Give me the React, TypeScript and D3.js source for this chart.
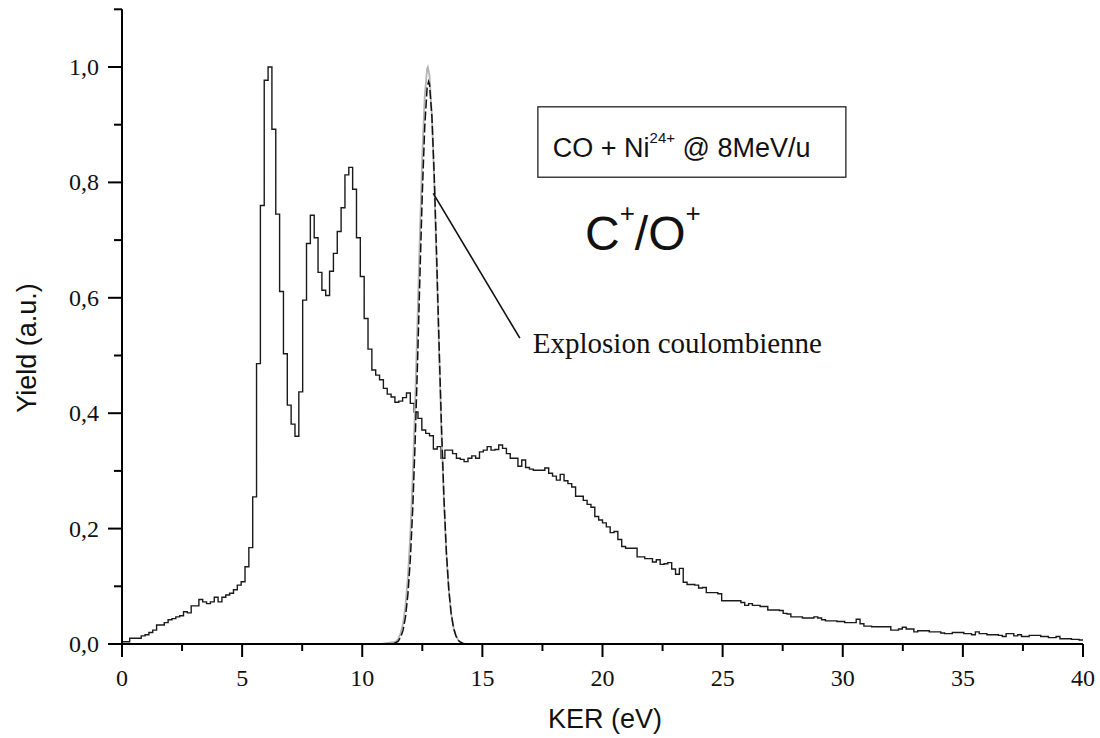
import React from "react";
import * as d3 from "d3";

// ---- Data ----
const BIN_WIDTH = 0.16; // eV
const kerCounts: number[] = [
  0.004, 0.004, 0.010, 0.010, 0.010, 0.014, 0.016, 0.020, 0.024, 0.033,
  0.033, 0.037, 0.042, 0.044, 0.047, 0.049, 0.056, 0.054, 0.066, 0.066,
  0.077, 0.073, 0.070, 0.073, 0.081, 0.073, 0.081, 0.085, 0.088, 0.094,
  0.102, 0.108, 0.134, 0.167, 0.255, 0.486, 0.760, 0.977, 1.000, 0.892,
  0.745, 0.611, 0.503, 0.414, 0.381, 0.360, 0.437, 0.596, 0.694, 0.743,
  0.704, 0.644, 0.613, 0.604, 0.646, 0.677, 0.715, 0.756, 0.813, 0.826,
  0.788, 0.704, 0.637, 0.564, 0.511, 0.475, 0.466, 0.458, 0.443, 0.433,
  0.428, 0.419, 0.421, 0.427, 0.435, 0.417, 0.402, 0.391, 0.371, 0.365,
  0.361, 0.338, 0.342, 0.322, 0.336, 0.336, 0.330, 0.322, 0.320, 0.316,
  0.322, 0.326, 0.322, 0.333, 0.336, 0.342, 0.336, 0.337, 0.345, 0.339,
  0.330, 0.322, 0.322, 0.308, 0.319, 0.306, 0.303, 0.301, 0.301, 0.301,
  0.305, 0.296, 0.291, 0.284, 0.294, 0.283, 0.278, 0.272, 0.256, 0.256,
  0.249, 0.242, 0.237, 0.221, 0.215, 0.210, 0.203, 0.193, 0.195, 0.181,
  0.169, 0.166, 0.166, 0.166, 0.151, 0.151, 0.148, 0.148, 0.142, 0.146,
  0.138, 0.139, 0.141, 0.130, 0.121, 0.131, 0.107, 0.103, 0.103, 0.102,
  0.097, 0.098, 0.089, 0.089, 0.089, 0.087, 0.075, 0.075, 0.075, 0.075,
  0.075, 0.072, 0.067, 0.070, 0.067, 0.067, 0.065, 0.065, 0.059, 0.059,
  0.059, 0.058, 0.053, 0.052, 0.047, 0.047, 0.047, 0.045, 0.045, 0.045,
  0.047, 0.045, 0.042, 0.040, 0.040, 0.040, 0.039, 0.039, 0.037, 0.037,
  0.037, 0.043, 0.035, 0.031, 0.031, 0.030, 0.030, 0.030, 0.030, 0.030,
  0.024, 0.024, 0.026, 0.029, 0.026, 0.026, 0.021, 0.023, 0.023, 0.023,
  0.021, 0.021, 0.021, 0.019, 0.018, 0.018, 0.020, 0.020, 0.020, 0.018,
  0.018, 0.016, 0.021, 0.018, 0.018, 0.016, 0.016, 0.016, 0.015, 0.013,
  0.018, 0.018, 0.014, 0.016, 0.013, 0.013, 0.015, 0.015, 0.015, 0.013,
  0.013, 0.011, 0.011, 0.013, 0.009, 0.009, 0.009, 0.008, 0.008, 0.007,
];

// Coulomb explosion peak (grey solid)
const coulombX: number[] = [
  10.8, 11.4, 11.5, 11.6, 11.7, 11.8, 11.9, 12.0, 12.1, 12.2, 12.3, 12.4,
  12.5, 12.6, 12.7, 12.73, 12.8, 12.9, 13.0, 13.1, 13.2, 13.3, 13.4, 13.5,
  13.6, 13.7, 13.8, 13.9, 14.0, 14.1, 14.2, 14.3, 28.7,
];
const coulombY: number[] = [
  0, 0.004, 0.009, 0.019, 0.036, 0.067, 0.116, 0.189, 0.289, 0.416, 0.561,
  0.712, 0.848, 0.949, 0.997, 1.0, 0.985, 0.914, 0.796, 0.652, 0.502, 0.362,
  0.246, 0.157, 0.094, 0.053, 0.028, 0.014, 0.0065, 0.003, 0.001, 0, 0,
];
// Fit (black dashed)
const fitX: number[] = [
  11.3, 11.5, 11.6, 11.7, 11.8, 11.9, 12.0, 12.1, 12.2, 12.3, 12.4, 12.5,
  12.6, 12.7, 12.76, 12.8, 12.9, 13.0, 13.1, 13.2, 13.3, 13.4, 13.5, 13.6,
  13.7, 13.8, 13.9, 14.0, 14.1, 14.2, 14.3,
];
const fitY: number[] = [
  0, 0.005, 0.012, 0.024, 0.047, 0.086, 0.146, 0.233, 0.348, 0.486, 0.637,
  0.781, 0.896, 0.964, 0.975, 0.97, 0.914, 0.807, 0.667, 0.516, 0.374, 0.254,
  0.161, 0.096, 0.053, 0.028, 0.014, 0.006, 0.003, 0.001, 0,
];

const xMajorTicks: number[] = [0, 5, 10, 15, 20, 25, 30, 35, 40];
const xMinorTicks: number[] = [2.5, 7.5, 12.5, 17.5, 22.5, 27.5, 32.5, 37.5];
const yMajorTicks: number[] = [0, 0.2, 0.4, 0.6, 0.8, 1.0];
const yMinorTicks: number[] = [0.1, 0.3, 0.5, 0.7, 0.9, 1.1];

const xTitle = "KER (eV)";
const yTitle = "Yield (a.u.)";
const annotLabel = "Explosion coulombienne";

// ---- Layout ----
const W = 1100;
const H = 738;
const serif = "'Liberation Serif', 'Times New Roman', serif";
const sans = "'Liberation Sans', Arial, sans-serif";

export default function App() {
  const x = d3.scaleLinear().domain([0, 40]).range([122, 1083]);
  const y = d3.scaleLinear().domain([0, 1.1]).range([644, 644 - 1.1 * 577]);

  const histPts: [number, number][] = kerCounts.map((v, i) => [i * BIN_WIDTH, v]);
  histPts.push([kerCounts.length * BIN_WIDTH, kerCounts[kerCounts.length - 1]]);
  const stepLine = d3
    .line<[number, number]>()
    .x((d) => x(d[0]))
    .y((d) => y(d[1]))
    .curve(d3.curveStepAfter);
  const plainLine = d3
    .line<[number, number]>()
    .x((d) => x(d[0]))
    .y((d) => y(d[1]));

  const coulombPts: [number, number][] = coulombX.map((v, i) => [v, coulombY[i]]);
  const fitPts: [number, number][] = fitX.map((v, i) => [v, fitY[i]]);

  const fmt = (v: number) => d3.format(".1f")(v).replace(".", ",");

  const y0 = y(0);
  const xAxisY = y0;

  return (
    <svg
      width={W}
      height={H}
      style={{ position: "absolute", left: 0, top: 0, background: "#fff" }}
    >
      <rect x={0} y={0} width={W} height={H} fill="#fff" />

      {/* histogram */}
      <path d={stepLine(histPts) || ""} fill="none" stroke="#1a1a1a" strokeWidth={1.4} />

      {/* coulomb explosion simulation (grey) */}
      <path d={plainLine(coulombPts) || ""} fill="none" stroke="#b4b4b4" strokeWidth={1.8} />
      {/* fit (dashed black) */}
      <path
        d={plainLine(fitPts) || ""}
        fill="none"
        stroke="#111"
        strokeWidth={1.5}
        strokeDasharray="9,3"
      />

      {/* axes */}
      <line x1={x(0)} x2={x(40)} y1={xAxisY} y2={xAxisY} stroke="#000" strokeWidth={2} />
      <line x1={x(0)} x2={x(0)} y1={y(0)} y2={y(1.1)} stroke="#000" strokeWidth={2} />

      {xMajorTicks.map((t) => (
        <g key={"xM" + t}>
          <line x1={x(t)} x2={x(t)} y1={xAxisY} y2={xAxisY + 13} stroke="#000" strokeWidth={2} />
          <text
            x={x(t)}
            y={686}
            textAnchor="middle"
            fontFamily={serif}
            fontSize={24}
            fill="#111"
          >
            {t}
          </text>
        </g>
      ))}
      {xMinorTicks.map((t) => (
        <line key={"xm" + t} x1={x(t)} x2={x(t)} y1={xAxisY} y2={xAxisY + 7} stroke="#000" strokeWidth={2} />
      ))}
      {yMajorTicks.map((t) => (
        <g key={"yM" + t}>
          <line x1={x(0) - 14} x2={x(0)} y1={y(t)} y2={y(t)} stroke="#000" strokeWidth={2} />
          <text
            x={99}
            y={y(t) + 8}
            textAnchor="end"
            fontFamily={serif}
            fontSize={24}
            fill="#111"
          >
            {fmt(t)}
          </text>
        </g>
      ))}
      {yMinorTicks.map((t) => (
        <line key={"ym" + t} x1={x(0) - 8} x2={x(0)} y1={y(t)} y2={y(t)} stroke="#000" strokeWidth={2} />
      ))}

      {/* axis titles */}
      <text x={605} y={728} textAnchor="middle" fontFamily={sans} fontSize={27} fill="#111">
        {xTitle}
      </text>
      <text
        transform={`translate(36,348) rotate(-90)`}
        textAnchor="middle"
        fontFamily={sans}
        fontSize={27}
        fill="#111"
      >
        {yTitle}
      </text>

      {/* info box */}
      <rect
        x={x(17.31)}
        y={y(0.931)}
        width={x(30.13) - x(17.31)}
        height={y(0.809) - y(0.931)}
        fill="none"
        stroke="#222"
        strokeWidth={1.3}
      />
      <text x={x(17.93)} y={y(0.844)} fontFamily={sans} fontSize={27} fill="#111">
        CO + Ni
        <tspan fontSize={15} dy={-14}>24+</tspan>
        <tspan fontSize={27} dy={14}>{" @ 8MeV/u"}</tspan>
      </text>

      {/* C+/O+ */}
      <text x={x(19.27)} y={y(0.683)} fontFamily={sans} fontSize={48} fill="#111">
        C
        <tspan fontSize={26} dy={-28}>+</tspan>
        <tspan fontSize={48} dy={28}>/O</tspan>
        <tspan fontSize={26} dy={-28}>+</tspan>
      </text>

      {/* annotation */}
      <line
        x1={x(12.955)}
        y1={y(0.781)}
        x2={x(16.56)}
        y2={y(0.53)}
        stroke="#111"
        strokeWidth={1.6}
      />
      <text x={x(17.1)} y={y(0.504)} fontFamily={serif} fontSize={29} fill="#111">
        {annotLabel}
      </text>
    </svg>
  );
}
